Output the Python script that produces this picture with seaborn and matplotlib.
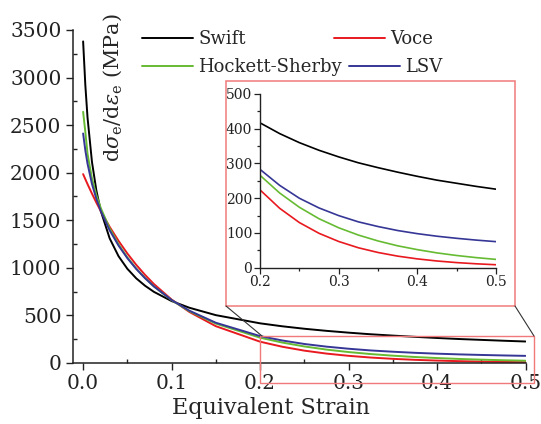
import numpy as np
import pandas as pd
import matplotlib
matplotlib.use("Agg")
import matplotlib.pyplot as plt
import seaborn as sns
from matplotlib.patches import Rectangle
from matplotlib.lines import Line2D
from matplotlib.ticker import MultipleLocator

# ---------------- data ----------------
strain = [0.0, 0.0025, 0.005, 0.01, 0.015, 0.02, 0.03, 0.04, 0.05, 0.06, 0.07, 0.08,
          0.10, 0.12, 0.15, 0.20, 0.225, 0.25, 0.275, 0.30, 0.325, 0.35, 0.375, 0.40,
          0.425, 0.45, 0.475, 0.50]
swift = [3380, 2921, 2578, 2113, 1812, 1597, 1310, 1123, 990, 890, 812, 748,
         651, 581, 503, 417, 386, 360, 338, 319, 302, 288, 275, 263, 252, 243, 234, 226]
voce = [1985, 1932, 1880, 1780, 1685, 1596, 1431, 1284, 1151, 1032, 926, 830,
        667, 537, 387, 224, 171, 130, 99, 75.5, 57.4, 43.8, 33.3, 25.4, 19.3, 14.7, 11.2, 8.5]
hockett = [2640, 2429, 2198, 1939, 1764, 1628, 1414, 1247, 1109, 993, 893, 805,
           660, 545, 414, 266, 215, 174, 141, 115, 94, 77, 63, 52, 42.6, 35.1, 29.0, 23.9]
lsv = [2412, 2235, 2094, 1882, 1724, 1596, 1394, 1235, 1102, 989, 891, 805,
       662, 550, 423, 283, 237, 200, 172, 150, 132, 118.5, 107, 98, 90.6, 84.6, 79.4, 75]

models = ["Swift", "Voce", "Hockett-Sherby", "LSV"]
series = [swift, voce, hockett, lsv]
main_xticks = [0.0, 0.1, 0.2, 0.3, 0.4, 0.5]
main_yticks = [0, 500, 1000, 1500, 2000, 2500, 3000, 3500]
inset_xticks = [0.2, 0.3, 0.4, 0.5]
inset_yticks = [0, 100, 200, 300, 400, 500]

colors = {"Swift": "#000000", "Voce": "#e8191f",
          "Hockett-Sherby": "#66bb33", "LSV": "#363696"}
frame_color = "#f07a7a"

df = pd.DataFrame({
    "strain": strain * len(models),
    "value": [v for s in series for v in s],
    "model": [m for m in models for _ in strain],
})

# ---------------- style ----------------
sns.set_style("ticks")
plt.rcParams["font.family"] = ["DejaVu Serif"]
plt.rcParams["mathtext.fontset"] = "dejavuserif"

W, H = 541, 424
fig = plt.figure(figsize=(W / 100, H / 100), dpi=100)


def fy(py):
    return 1 - py / H


# ---------------- main axes ----------------
ax = fig.add_axes([72.5 / W, fy(363), 453 / W, 333 / H])
sns.lineplot(data=df, x="strain", y="value", hue="model", hue_order=models,
             palette=colors, estimator=None, sort=False, lw=1.4, legend=False, ax=ax)
ax.set_xlim(-0.012, 0.5)
ax.set_ylim(0, 3500)
sns.despine(ax=ax)
for sp in ("left", "bottom"):
    ax.spines[sp].set_linewidth(1.1)
    ax.spines[sp].set_color("#222222")
ax.set_xticks(main_xticks)
ax.set_xticklabels([f"{t:.1f}" for t in main_xticks])
ax.set_yticks(main_yticks)
ax.xaxis.set_minor_locator(MultipleLocator(0.05))
ax.yaxis.set_minor_locator(MultipleLocator(250))
ax.tick_params(which="major", direction="out", length=5, width=1, labelsize=14.5, pad=3,
               colors="#222222")
ax.tick_params(which="minor", direction="in", length=3, width=1, colors="#222222")
ax.set_xlabel("")
ax.set_ylabel("")

fig.text(271 / W, fy(408), "Equivalent Strain", ha="center", va="center", fontsize=16)
fig.text(113 / W, fy(88), r"d$\sigma_\mathrm{e}$/d$\varepsilon_\mathrm{e}$ (MPa)",
         rotation=90, ha="center", va="center", fontsize=15)

# zoom rectangle in main axes
ax.add_patch(Rectangle((0.2, -210), 0.31, 495, fill=False, edgecolor=frame_color,
                       lw=1.0, clip_on=False, zorder=5))

# ---------------- inset ----------------
fig.add_artist(Rectangle((226 / W, fy(306)), 289 / W, 225.5 / H, transform=fig.transFigure,
                         fill=False, edgecolor=frame_color, lw=1.1))
fig.add_artist(Line2D([226 / W, 262 / W], [fy(306), fy(336)], transform=fig.transFigure,
                      color="#333333", lw=0.8))
fig.add_artist(Line2D([515 / W, 534 / W], [fy(306), fy(336)], transform=fig.transFigure,
                      color="#333333", lw=0.8))

axi = fig.add_axes([260 / W, fy(267.7), 236 / W, 173.7 / H])
axi.set_facecolor("white")
sns.lineplot(data=df[df["strain"] >= 0.2], x="strain", y="value", hue="model",
             hue_order=models, palette=colors, estimator=None, sort=False, lw=1.2,
             legend=False, ax=axi)
axi.set_xlim(0.2, 0.5)
axi.set_ylim(0, 500)
sns.despine(ax=axi)
for sp in ("left", "bottom"):
    axi.spines[sp].set_linewidth(1.0)
    axi.spines[sp].set_color("#222222")
axi.set_xticks(inset_xticks)
axi.set_xticklabels([f"{t:.1f}" for t in inset_xticks])
axi.set_yticks(inset_yticks)
axi.xaxis.set_minor_locator(MultipleLocator(0.05))
axi.yaxis.set_minor_locator(MultipleLocator(50))
axi.tick_params(which="major", direction="out", length=4, width=0.9, labelsize=10, pad=1.5,
                colors="#222222")
axi.tick_params(which="minor", direction="out", length=2.5, width=0.9, colors="#222222")
axi.set_xlabel("")
axi.set_ylabel("")

# ---------------- legend entries ----------------
fs = 13
fs_px = fs * 100 / 72
entries = [("Swift", 142, 39), ("Voce", 334, 39), ("Hockett-Sherby", 142, 67), ("LSV", 349, 67)]
for name, x0, y0 in entries:
    fig.legend(handles=[Line2D([], [], color=colors[name], lw=1.4)], labels=[name],
               loc="center left", bbox_to_anchor=(x0 / W, fy(y0)), frameon=False,
               borderpad=0, borderaxespad=0, handlelength=51 / fs_px,
               handletextpad=5 / fs_px, fontsize=fs)

fig.savefig("out.png", dpi=100)
